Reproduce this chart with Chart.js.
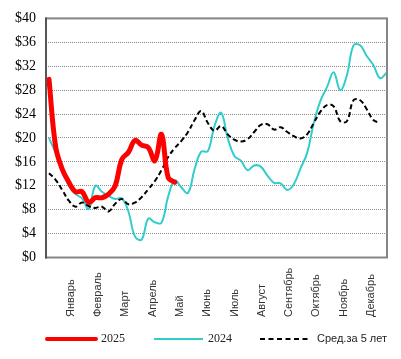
<!DOCTYPE html>
<html><head><meta charset="utf-8">
<script src="https://cdn.jsdelivr.net/npm/chart.js@4"></script>
<style>html,body{margin:0;padding:0;background:#fff;}#wrap{width:401px;height:359px;}</style>
</head><body><div id="wrap"><canvas id="c" width="401" height="359"></canvas></div>
<script>
// ---- data ----
const months = ['Январь','Февраль','Март','Апрель','Май','Июнь','Июль','Август','Сентябрь','Октябрь','Ноябрь','Декабрь'];
const seriesNames = ['2025', '2024', 'Сред.за 5 лет'];
const yTickValues = [0, 4, 8, 12, 16, 20, 24, 28, 32, 36, 40];
// weekly values, $ 
const values2025 = [29.8, 18.6, 14.8, 12.6, 11.0, 11.0, 9.2, 10.0, 10.0, 10.6, 12.0, 16.4, 17.6, 19.6, 18.8, 18.4, 16.2, 20.6, 13.4, 12.6];
const values2024 = [20.0, 17.5, 14.8, 12.0, 10.6, 9.9, 8.1, 12.0, 11.0, 10.3, 9.8, 9.9, 7.7, 3.5, 3.0, 6.5, 5.9, 5.8, 10.2, 12.9,
  11.7, 10.8, 14.8, 17.7, 17.8, 22.0, 24.2, 20.0, 17.0, 16.2, 14.6, 15.4, 15.2, 13.7, 12.5, 12.4, 11.3, 12.3, 14.9, 17.5,
  22.5, 26.2, 28.5, 31.0, 28.0, 30.5, 35.5, 35.5, 33.7, 32.2, 30.0, 30.9];
const values5yr = [14.1, 13.0, 11.3, 9.5, 8.5, 9.2, 8.6, 8.3, 8.5, 7.7, 9.0, 9.8, 8.9, 9.2, 10.1, 11.4, 12.8, 14.6, 16.8, 18.3,
  19.5, 21.0, 23.0, 24.5, 22.5, 21.2, 22.0, 20.6, 19.7, 19.4, 19.8, 21.0, 22.2, 22.3, 21.4, 21.8, 21.0, 20.3, 19.9, 20.6,
  22.5, 24.4, 25.5, 25.3, 22.8, 22.8, 26.3, 26.3, 24.8, 23.0, 22.5];

const toPts = arr => arr.map((v, i) => ({x: i, y: v}));
const colors = ['#ff0000', '#33cccc', '#000000'];

const overlay = {
  id: 'overlay',
  afterDraw(chart) {
    const ctx = chart.ctx, a = chart.chartArea, xs = chart.scales.x;
    ctx.save();
    // plot frame
    ctx.lineWidth = 2;
    ctx.strokeStyle = '#858585';
    ctx.strokeRect(a.left, a.top, a.right - a.left, a.bottom - a.top);
    ctx.strokeStyle = '#555555';
    ctx.beginPath(); ctx.moveTo(a.left, a.top - 1); ctx.lineTo(a.left, a.bottom + 1); ctx.stroke();
    // month labels (rotated, start-aligned at bottom)
    ctx.fillStyle = '#333333';
    ctx.font = '11px "Liberation Sans", Arial, sans-serif';
    ctx.textAlign = 'left';
    ctx.textBaseline = 'middle';
    months.forEach((m, i) => {
      const px = xs.getPixelForValue(3.3 + i * 4.12);
      ctx.save();
      ctx.translate(px, 317);
      ctx.rotate(-Math.PI / 2);
      ctx.fillText(m, 0, 0);
      ctx.restore();
    });
    // legend
    const ly = 339;
    const items = [
      {x0: 47, x1: 96, w: 4, dash: [], font: '12px "Liberation Serif", "Times New Roman", serif', tx: 101},
      {x0: 154, x1: 203, w: 2, dash: [], font: '12px "Liberation Serif", "Times New Roman", serif', tx: 208},
      {x0: 260, x1: 310, w: 2, dash: [5, 3.5], font: '11px "Liberation Sans", Arial, sans-serif', tx: 317}
    ];
    items.forEach((it, i) => {
      ctx.beginPath();
      ctx.setLineDash(it.dash);
      ctx.lineWidth = it.w;
      ctx.lineCap = i === 0 ? 'round' : 'butt';
      ctx.strokeStyle = colors[i];
      ctx.moveTo(it.x0, ly); ctx.lineTo(it.x1, ly); ctx.stroke();
      ctx.setLineDash([]);
      ctx.font = it.font;
      ctx.fillStyle = '#222222';
      ctx.textAlign = 'left';
      ctx.textBaseline = 'middle';
      ctx.fillText(seriesNames[i], it.tx, ly);
    });
    ctx.restore();
  }
};

new Chart(document.getElementById('c'), {
  type: 'line',
  data: {
    datasets: [
      {label: seriesNames[0], data: toPts(values2025), borderColor: colors[0], borderWidth: 5, tension: 0.4, pointRadius: 0, borderCapStyle: 'round', borderJoinStyle: 'round'},
      {label: seriesNames[2], data: toPts(values5yr), borderColor: colors[2], borderWidth: 2, borderDash: [5, 3], tension: 0.4, pointRadius: 0},
      {label: seriesNames[1], data: toPts(values2024), borderColor: colors[1], borderWidth: 2, tension: 0.4, pointRadius: 0}
    ]
  },
  options: {
    responsive: false,
    animation: false,
    devicePixelRatio: 1,
    layout: {padding: {top: 14, right: 14, left: 0, bottom: 0}},
    plugins: {legend: {display: false}, tooltip: {enabled: false}},
    scales: {
      x: {
        type: 'linear', min: -0.45, max: 51.06,
        grid: {display: false},
        border: {display: false},
        ticks: {display: false},
        afterFit(s) { s.height = 101.5; }
      },
      y: {
        min: 0, max: 40,
        afterBuildTicks(s) { s.ticks = yTickValues.map(v => ({value: v})); },
        ticks: {
          callback: v => '$' + v,
          color: '#000000',
          font: {family: '"Liberation Serif", "Times New Roman", serif', size: 14},
          padding: 10
        },
        grid: {color: '#8a8a8a', lineWidth: 1, drawTicks: false},
        border: {display: false, dash: [1, 1]},
        afterFit(s) { s.width = 46; }
      }
    }
  },
  plugins: [overlay]
});
</script>
</body></html>
